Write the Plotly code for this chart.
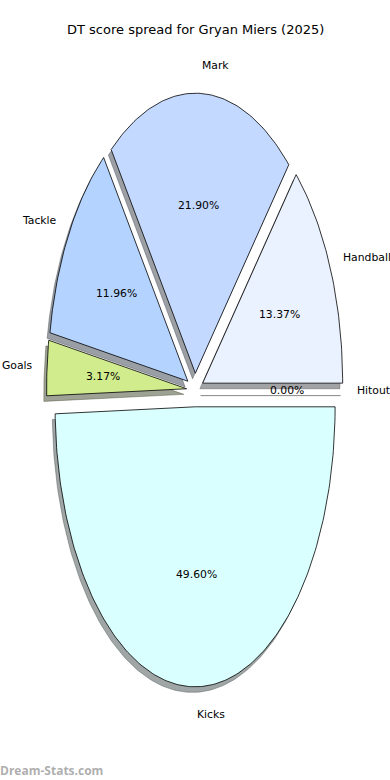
import numpy as np
import plotly.graph_objects as go

title = "DT score spread for Gryan Miers (2025)"
labels = ["Handball", "Mark", "Tackle", "Goals", "Kicks", "Hitout"]
values = [13.37, 21.90, 11.96, 3.17, 49.60, 0.00]
colors = ["#EAF1FF", "#C4D9FF", "#B4D4FF", "#D0EC8C", "#DAFFFF", "#F0F0F0"]
explode = [0.06, 0.06, 0.06, 0.06, 0.06, 0.06]
watermark = "Dream-Stats.com"

start_angle = 0.0
radius = 1.0
shadow_dx, shadow_dy = -0.02, -0.02


def hex_rgb(h):
    h = h.lstrip("#")
    return [int(h[i:i + 2], 16) for i in (0, 2, 4)]


def wedge_xy(cx, cy, t1, t2):
    n = max(2, int(abs(t2 - t1) / 1.0) + 2)
    th = np.radians(np.linspace(t1, t2, n))
    xs = np.concatenate([[cx], cx + radius * np.cos(th), [cx]])
    ys = np.concatenate([[cy], cy + radius * np.sin(th), [cy]])
    return xs, ys


total = sum(values)
fig = go.Figure()

wedges = []
theta = start_angle
for lab, v, c, e in zip(labels, values, colors, explode):
    span = 360.0 * v / total
    t1, t2 = theta, theta + span
    tm = np.radians((t1 + t2) / 2)
    cx, cy = e * np.cos(tm), e * np.sin(tm)
    wedges.append((lab, v, c, t1, t2, tm, cx, cy))
    theta = t2

# shadows first (below all wedges)
for lab, v, c, t1, t2, tm, cx, cy in wedges:
    r, g, b = hex_rgb(c)
    sc = f"rgba({int(r*0.3)},{int(g*0.3)},{int(b*0.3)},0.5)"
    xs, ys = wedge_xy(cx + shadow_dx, cy + shadow_dy, t1, t2)
    fig.add_trace(go.Scatter(x=xs, y=ys, mode="lines", fill="toself",
                             fillcolor=sc, line=dict(color=sc, width=0.8),
                             hoverinfo="skip", showlegend=False))

txt_font = dict(family="DejaVu Sans", size=10.8, color="black")
for lab, v, c, t1, t2, tm, cx, cy in wedges:
    xs, ys = wedge_xy(cx, cy, t1, t2)
    if v > 0:
        fig.add_trace(go.Scatter(x=xs, y=ys, mode="lines", fill="toself",
                                 fillcolor=c, line=dict(color="black", width=0.8),
                                 hoverinfo="skip", showlegend=False))
    lx = cx + 1.1 * radius * np.cos(tm)
    ly = cy + 1.1 * radius * np.sin(tm)
    fig.add_annotation(x=lx, y=ly, text=lab, showarrow=False, borderpad=0, borderwidth=0,
                       xanchor="left" if lx > 0 else "right", yanchor="middle",
                       font=txt_font)
    px = cx + 0.6 * radius * np.cos(tm)
    py = cy + 0.6 * radius * np.sin(tm)
    fig.add_annotation(x=px, y=py, text=f"{v:.2f}%", showarrow=False, borderpad=0, borderwidth=0,
                       xanchor="center", yanchor="middle", font=txt_font)

fig.add_annotation(xref="paper", yref="paper", x=0.5, y=1 - 30 / 780,
                   text=title, showarrow=False, xanchor="center", yanchor="middle",
                   font=dict(family="DejaVu Sans", size=13, color="black"))
fig.add_annotation(xref="paper", yref="paper", x=0.0, y=1 - 770 / 780,
                   text=f"<b>{watermark}</b>", showarrow=False, xanchor="left", yanchor="middle",
                   borderpad=0, borderwidth=0,
                   font=dict(family="Open Sans", size=12, color="rgba(128,128,128,0.65)"))

lim = 195 / 140
fig.update_xaxes(range=[-lim, lim], visible=False, fixedrange=True)
fig.update_yaxes(range=[-lim, lim], visible=False, fixedrange=True)
fig.update_layout(width=390, height=780, margin=dict(l=0, r=0, t=0, b=0),
                  plot_bgcolor="white", paper_bgcolor="white", showlegend=False)

fig.write_html("out.html", config={"displayModeBar": False},
               post_script="document.body.style.margin='0';")
